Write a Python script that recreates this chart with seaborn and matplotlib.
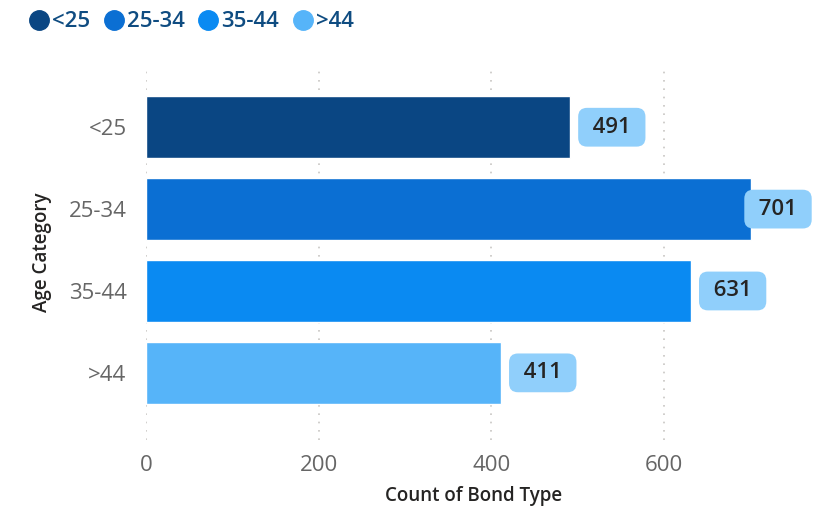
import matplotlib
matplotlib.use("Agg")
import matplotlib.pyplot as plt
from matplotlib.lines import Line2D
import seaborn as sns
import pandas as pd

# Data
age_categories = ["<25", "25-34", "35-44", ">44"]
bond_counts = [491, 701, 631, 411]
x_ticks = [0, 200, 400, 600]

colors = ["#0A4683", "#0B6FD3", "#0A8AF2", "#56B4F9"]
label_box = "#90CFFB"
text_dark = "#252423"
tick_gray = "#666666"

df = pd.DataFrame({"Age Category": age_categories, "Count of Bond Type": bond_counts})

sns.set_theme(style="white")
plt.rcParams["font.family"] = ["Open Sans", "DejaVu Sans"]

fig = plt.figure(figsize=(8.35, 5.08), dpi=100)
ax = fig.add_axes([146 / 835, 1 - 440 / 508, 656 / 835, 375 / 508])

# dotted vertical gridlines behind the bars
for t in x_ticks:
    ax.axvline(t, color="#C8C6C4", linestyle=(0, (1, 4)), linewidth=1.2, zorder=0)

sns.barplot(data=df, y="Age Category", x="Count of Bond Type", hue="Age Category",
            palette=colors, order=age_categories, hue_order=age_categories,
            orient="h", width=0.76, dodge=False, legend=False, ax=ax, zorder=2,
            saturation=1)

ax.set_xlim(0, 760)
ax.set_ylim(3.82, -0.76)
ax.set_xticks(x_ticks)
ax.tick_params(axis="both", length=0)
ax.tick_params(axis="x", labelsize=16, labelcolor=tick_gray, pad=11)
ax.tick_params(axis="y", labelsize=16, labelcolor=tick_gray, pad=14)
for s in ax.spines.values():
    s.set_visible(False)

ax.set_xlabel("Count of Bond Type", fontsize=13.5, color=text_dark,
              fontweight="semibold", labelpad=7)
ax.set_ylabel("Age Category", fontsize=13.5, color=text_dark,
              fontweight="semibold", labelpad=12)

# value labels in rounded boxes just past each bar end
px_per_unit = 656 / 760
offset = 42 / px_per_unit
right_limit = (812 - 34 - 146) / px_per_unit
for i, v in enumerate(bond_counts):
    xpos = min(v + offset, right_limit)
    ax.text(xpos, i, f" {v} ", ha="center", va="center", fontsize=16,
            fontweight="semibold", color=text_dark, zorder=4, clip_on=False,
            bbox=dict(boxstyle="round,pad=0.4,rounding_size=0.4",
                      fc=label_box, ec="none"))

# legend across the top
handles = [Line2D([0], [0], marker="o", linestyle="", markersize=14,
                  markerfacecolor=c, markeredgecolor=c) for c in colors]
leg = fig.legend(handles, age_categories, loc="upper left",
                 bbox_to_anchor=(0.02, 0.995), ncol=4, frameon=False,
                 fontsize=16, handletextpad=0.0, columnspacing=0.45,
                 handlelength=1.2, borderaxespad=0)
for t in leg.get_texts():
    t.set_color("#0F4C81")
    t.set_fontweight("semibold")

fig.savefig("out.png", dpi=100)
